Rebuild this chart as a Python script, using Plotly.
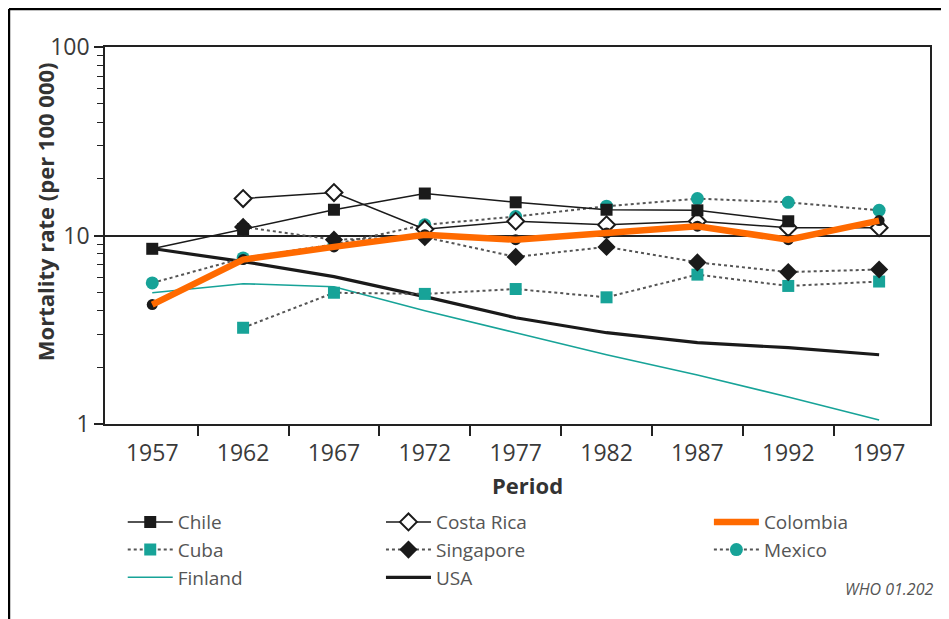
import plotly.graph_objects as go

periods = [1957, 1962, 1967, 1972, 1977, 1982, 1987, 1992, 1997]

chile = [8.5, 10.8, 13.7, 16.7, 15.0, 13.7, 13.6, 11.9, None]
costa_rica = [None, 15.7, 16.9, 10.8, 11.9, 11.4, 11.9, 11.0, 11.0]
colombia = [4.3, 7.45, 8.7, 10.1, 9.5, 10.3, 11.2, 9.5, 12.0]
cuba = [None, 3.24, 4.97, 4.9, 5.2, 4.7, 6.2, 5.4, 5.7]
singapore = [None, 11.1, 9.5, 9.8, 7.7, 8.7, 7.2, 6.4, 6.6]
mexico = [5.6, 7.6, 8.96, 11.4, 12.6, 14.3, 15.7, 15.0, 13.6]
finland = [4.97, 5.55, 5.35, 3.99, 3.05, 2.33, 1.82, 1.39, 1.05]
usa = [8.53, 7.27, 6.05, 4.74, 3.66, 3.05, 2.70, 2.54, 2.33]

y_tickvals = [1, 10, 100]
y_minor = [2, 3, 4, 5, 6, 7, 8, 9, 20, 30, 40, 50, 60, 70, 80, 90]
x_boundaries = [1959.5, 1964.5, 1969.5, 1974.5, 1979.5, 1984.5, 1989.5, 1994.5]

TEAL = "#17a398"
BLACK = "#1a1a1a"
DOT = "#555555"
ORANGE = "#ff6a00"
FONT = "Open Sans"

fig = go.Figure()

fig.add_trace(go.Scatter(x=periods, y=finland, name="Finland", mode="lines",
                         line=dict(color=TEAL, width=1.6), legend="legend", legendrank=3))
fig.add_trace(go.Scatter(x=periods, y=usa, name="USA", mode="lines",
                         line=dict(color=BLACK, width=3.2), legend="legend2", legendrank=3))
fig.add_trace(go.Scatter(x=periods, y=cuba, name="Cuba", mode="lines+markers",
                         line=dict(color=DOT, width=2, dash="dot"),
                         marker=dict(symbol="square", size=12, color=TEAL),
                         legend="legend", legendrank=2))
fig.add_trace(go.Scatter(x=periods, y=mexico, name="Mexico", mode="lines+markers",
                         line=dict(color=DOT, width=2, dash="dot"),
                         marker=dict(symbol="circle", size=13, color=TEAL),
                         legend="legend3", legendrank=2))
fig.add_trace(go.Scatter(x=periods, y=singapore, name="Singapore", mode="lines+markers",
                         line=dict(color=DOT, width=2, dash="dot"),
                         marker=dict(symbol="diamond", size=14, color=BLACK),
                         legend="legend2", legendrank=2))
fig.add_trace(go.Scatter(x=periods, y=costa_rica, name="Costa Rica", mode="lines+markers",
                         line=dict(color=BLACK, width=1.5),
                         marker=dict(symbol="diamond", size=13, color="white",
                                     line=dict(color=BLACK, width=2)),
                         legend="legend2", legendrank=1))
fig.add_trace(go.Scatter(x=periods, y=chile, name="Chile", mode="lines+markers",
                         line=dict(color=BLACK, width=1.5),
                         marker=dict(symbol="square", size=12, color=BLACK),
                         legend="legend", legendrank=1))
fig.add_trace(go.Scatter(x=periods, y=colombia, name="Colombia", mode="lines+markers",
                         line=dict(color=BLACK, width=1.5),
                         marker=dict(symbol="circle", size=11, color=BLACK),
                         showlegend=False, legend="legend3"))
fig.add_trace(go.Scatter(x=periods, y=colombia, name="Colombia", mode="lines",
                         line=dict(color=ORANGE, width=6.5),
                         legend="legend3", legendrank=1))

axis_common = dict(showline=True, linecolor="#222", linewidth=1.5, mirror=True,
                   tickfont=dict(family=FONT, size=23, color="#3a3a3a"), zeroline=False)

fig.update_xaxes(**axis_common, range=[1954.4, 1999.8], tickmode="array",
                 tickvals=periods, ticks="outside", ticklen=8,
                 tickcolor="rgba(0,0,0,0)", showgrid=False,
                 minor=dict(tickmode="array", tickvals=x_boundaries, ticks="outside",
                            ticklen=10, tickwidth=1.5, tickcolor="#222", showgrid=False))
fig.update_yaxes(**axis_common, type="log", range=[0, 2], tickmode="array",
                 tickvals=y_tickvals, ticks="outside", ticklen=9, tickwidth=1.5,
                 tickcolor="#222", showgrid=True, gridcolor="#222", gridwidth=1.5,
                 minor=dict(tickmode="array", tickvals=y_minor, ticks="outside",
                            ticklen=6, tickwidth=1.2, tickcolor="#222", showgrid=False))

legend_common = dict(xanchor="left", yanchor="top", bgcolor="rgba(0,0,0,0)",
                     font=dict(family=FONT, size=19, color="#555"), itemwidth=45,
                     traceorder="normal", orientation="v", tracegroupgap=0)

fig.update_layout(
    width=941, height=611,
    margin=dict(l=97, r=19, t=39, b=195),
    paper_bgcolor="white", plot_bgcolor="white",
    font=dict(family=FONT),
    legend=dict(x=0.0215, y=-0.2097, **legend_common),
    legend2=dict(x=0.3345, y=-0.2097, **legend_common),
    legend3=dict(x=0.732, y=-0.2097, **legend_common),
    annotations=[
        dict(text="<b>Period</b>", xref="paper", yref="paper", x=0.512, y=-0.163,
             showarrow=False, font=dict(family=FONT, size=22, color="#333"),
             xanchor="center", yanchor="middle"),
        dict(text="<b>Mortality rate (per 100 000)</b>", xref="paper", yref="paper",
             x=-0.0727, y=0.562, textangle=-90, showarrow=False,
             font=dict(family=FONT, size=22, color="#333"),
             xanchor="center", yanchor="middle"),
        dict(text="<i>WHO 01.202</i>", xref="paper", yref="paper", x=1.006, y=-0.4377,
             showarrow=False, font=dict(family=FONT, size=16, color="#555"),
             xanchor="right", yanchor="middle"),
    ],
    shapes=[
        dict(type="line", xref="paper", yref="paper", x0=-0.1164, x1=-0.1164,
             y0=-0.52, y1=1.1008, line=dict(color="black", width=2.5)),
        dict(type="line", xref="paper", yref="paper", x0=-0.1164, x1=1.03,
             y0=1.1008, y1=1.1008, line=dict(color="black", width=2.5)),
    ],
)

fig.write_html("out.html")
